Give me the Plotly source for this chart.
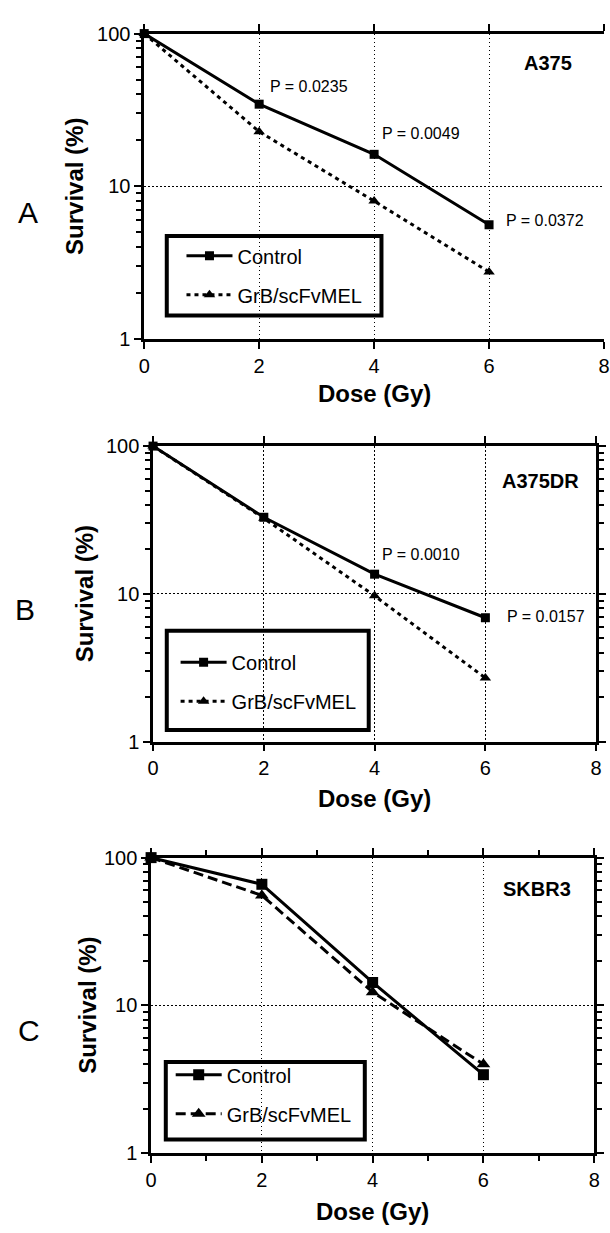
import plotly.graph_objects as go
import numpy as np

# ---------------- data ----------------
dose = [0, 2, 4, 6]
a_control = [100, 34.5, 16.2, 5.6]
a_grb = [100, 22.8, 8.0, 2.75]
b_control = [100, 33.0, 13.6, 6.9]
b_grb = [100, 32.5, 9.7, 2.7]
c_control = [100, 66.0, 14.3, 3.4]
c_grb = [100, 55.5, 12.3, 4.0]

series_names = ["Control", "GrB/scFvMEL"]
panel_letters = ["A", "B", "C"]
cell_lines = ["A375", "A375DR", "SKBR3"]
p_text_a = ["P = 0.0235", "P = 0.0049", "P = 0.0372"]
p_text_b = ["P = 0.0010", "P = 0.0157"]
x_tick_vals = [0, 2, 4, 6, 8]
x_minor_vals = [1, 3, 5, 7]
y_tick_vals = [1, 10, 100]
y_tick_text = ["1", "10", "100"]
y_minor_vals = [2, 3, 4, 5, 6, 7, 8, 9, 20, 30, 40, 50, 60, 70, 80, 90]
x_title = "Dose (Gy)"
y_title = "Survival (%)"

W, H = 610, 1233
FONT = "Liberation Sans, Arial, sans-serif"

# plot-area geometry in pixels (left, right, top, bottom)
panels = [
    (141, 610, 23, 334),
    (150, 602, 443, 744),
    (148, 600, 862, 1163),
]

def px(x):
    return x / W

def py(y):
    return 1 - y / H

fig = go.Figure()

data_sets = [(a_control, a_grb), (b_control, b_grb), (c_control, c_grb)]
grb_dash = ["4px,4px", "4px,4px", "10px,5px"]
marker_sizes = [9, 9, 11]
legend_keys = ["legend", "legend2", "legend3"]

for i, (ctrl, grb) in enumerate(data_sets):
    ax = "" if i == 0 else str(i + 1)
    fig.add_trace(go.Scatter(
        x=dose, y=ctrl, name=series_names[0], mode="lines+markers",
        line=dict(color="black", width=3),
        marker=dict(symbol="square", size=marker_sizes[i], color="black"),
        xaxis="x" + ax, yaxis="y" + ax, legend=legend_keys[i],
        legendgroup="c%d" % i, cliponaxis=False,
    ))
    fig.add_trace(go.Scatter(
        x=dose, y=grb, name=series_names[1], mode="lines+markers",
        line=dict(color="black", width=3, dash=grb_dash[i]),
        marker=dict(symbol="triangle-up", size=marker_sizes[i] + 1, color="black"),
        xaxis="x" + ax, yaxis="y" + ax, legend=legend_keys[i],
        legendgroup="g%d" % i, cliponaxis=False,
    ))

layout = dict(
    width=W, height=H,
    margin=dict(l=0, r=0, t=0, b=0),
    paper_bgcolor="white", plot_bgcolor="white",
    font=dict(family=FONT, color="black", size=20),
    showlegend=True,
)

for i, (l, r, t, b) in enumerate(panels):
    ax = "" if i == 0 else str(i + 1)
    xa = dict(
        domain=[px(l), px(r)], range=[0, 8], tickmode="array", tickvals=x_tick_vals,
        showline=True, linecolor="black", linewidth=2.5,
        mirror="ticks", ticks="outside", ticklen=7, tickwidth=2, tickcolor="black",
        showgrid=True, gridcolor="black", gridwidth=1.3, griddash="1.5px,2.5px",
        zeroline=False, tickfont=dict(size=20, family=FONT),
        anchor="y" + ax, fixedrange=True,
    )
    if i == 2:
        xa["minor"] = dict(tickvals=x_minor_vals, ticks="outside", ticklen=5,
                           tickwidth=2, tickcolor="black", showgrid=False)
    ya = dict(
        domain=[py(b), py(t)], type="log", range=[0, 2],
        tickmode="array", tickvals=y_tick_vals, ticktext=y_tick_text,
        showline=True, linecolor="black", linewidth=2.5,
        mirror=("ticks" if i > 0 else False), ticks="outside", ticklen=7, tickwidth=2,
        tickcolor="black",
        minor=dict(tickvals=y_minor_vals, ticks="outside", ticklen=5,
                   tickwidth=2, tickcolor="black", showgrid=False),
        showgrid=True, gridcolor="black", gridwidth=1.3, griddash="1.5px,2.5px",
        zeroline=False, tickfont=dict(size=20, family=FONT),
        anchor="x" + ax, fixedrange=True,
    )
    layout["xaxis" + ax] = xa
    layout["yaxis" + ax] = ya

# legends (text start x, centre y between the two entries)
legend_pos = [(235, 269), (229, 683), (224, 1103)]
for i, (tx, cy) in enumerate(legend_pos):
    layout[legend_keys[i]] = dict(
        x=px(tx - 56), y=py(cy), xanchor="left", yanchor="middle",
        bgcolor="rgba(0,0,0,0)", borderwidth=0, itemwidth=46,
        tracegroupgap=10, font=dict(size=20, family=FONT),
        traceorder="grouped",
    )

fig.update_layout(**layout)

# legend frames
legend_boxes = [(164, 383, 229, 310), (164, 370, 631, 732), (163, 366, 1070, 1149)]
for (x0, x1, y0, y1) in legend_boxes:
    fig.add_shape(type="rect", xref="paper", yref="paper",
                  x0=px(x0), x1=px(x1), y0=py(y1), y1=py(y0),
                  line=dict(color="black", width=4), fillcolor="rgba(0,0,0,0)")

ann = []
# P-value labels (data coordinates, log axis => log10)
p_pos_a = [(2.16, 1.654), (4.10, 1.344), (6.26, 0.778)]
for txt, (x, ly) in zip(p_text_a, p_pos_a):
    ann.append(dict(text=txt, x=x, y=ly, xref="x", yref="y", xanchor="left",
                    yanchor="middle", showarrow=False, font=dict(size=16, family=FONT)))
p_pos_b = [(4.10, 1.264), (6.35, 0.847)]
for txt, (x, ly) in zip(p_text_b, p_pos_b):
    ann.append(dict(text=txt, x=x, y=ly, xref="x2", yref="y2", xanchor="left",
                    yanchor="middle", showarrow=False, font=dict(size=16, family=FONT)))

# cell-line labels
cell_pos = [(7.03, 1.807), (6.99, 1.767), (6.97, 1.788)]
for i, (txt, (x, ly)) in enumerate(zip(cell_lines, cell_pos)):
    ax = "" if i == 0 else str(i + 1)
    ann.append(dict(text="<b>%s</b>" % txt, x=x, y=ly, xref="x" + ax, yref="y" + ax,
                    xanchor="center", yanchor="middle", showarrow=False,
                    font=dict(size=20, family=FONT)))

# axis titles and panel letters
x_title_pos = [(375.5, 389), (376, 802), (374, 1222)]
y_title_pos = [(70, 178.5), (80, 593.5), (83, 1012.5)]
letter_pos = [(22.5, 205), (19.5, 609), (23, 1037.6)]
for i in range(3):
    ann.append(dict(text="<b>%s</b>" % x_title, x=px(x_title_pos[i][0]), y=py(x_title_pos[i][1]),
                    xref="paper", yref="paper", xanchor="center", yanchor="middle",
                    showarrow=False, font=dict(size=24, family=FONT)))
    ann.append(dict(text="<b>%s</b>" % y_title, x=px(y_title_pos[i][0]), y=py(y_title_pos[i][1]),
                    xref="paper", yref="paper", xanchor="center", yanchor="middle",
                    textangle=-90, showarrow=False, font=dict(size=24, family=FONT)))
    ann.append(dict(text=panel_letters[i], x=px(letter_pos[i][0]), y=py(letter_pos[i][1]),
                    xref="paper", yref="paper", xanchor="center", yanchor="middle",
                    showarrow=False, font=dict(size=30, family=FONT)))

fig.update_layout(annotations=ann)
fig.write_html("out.html")
